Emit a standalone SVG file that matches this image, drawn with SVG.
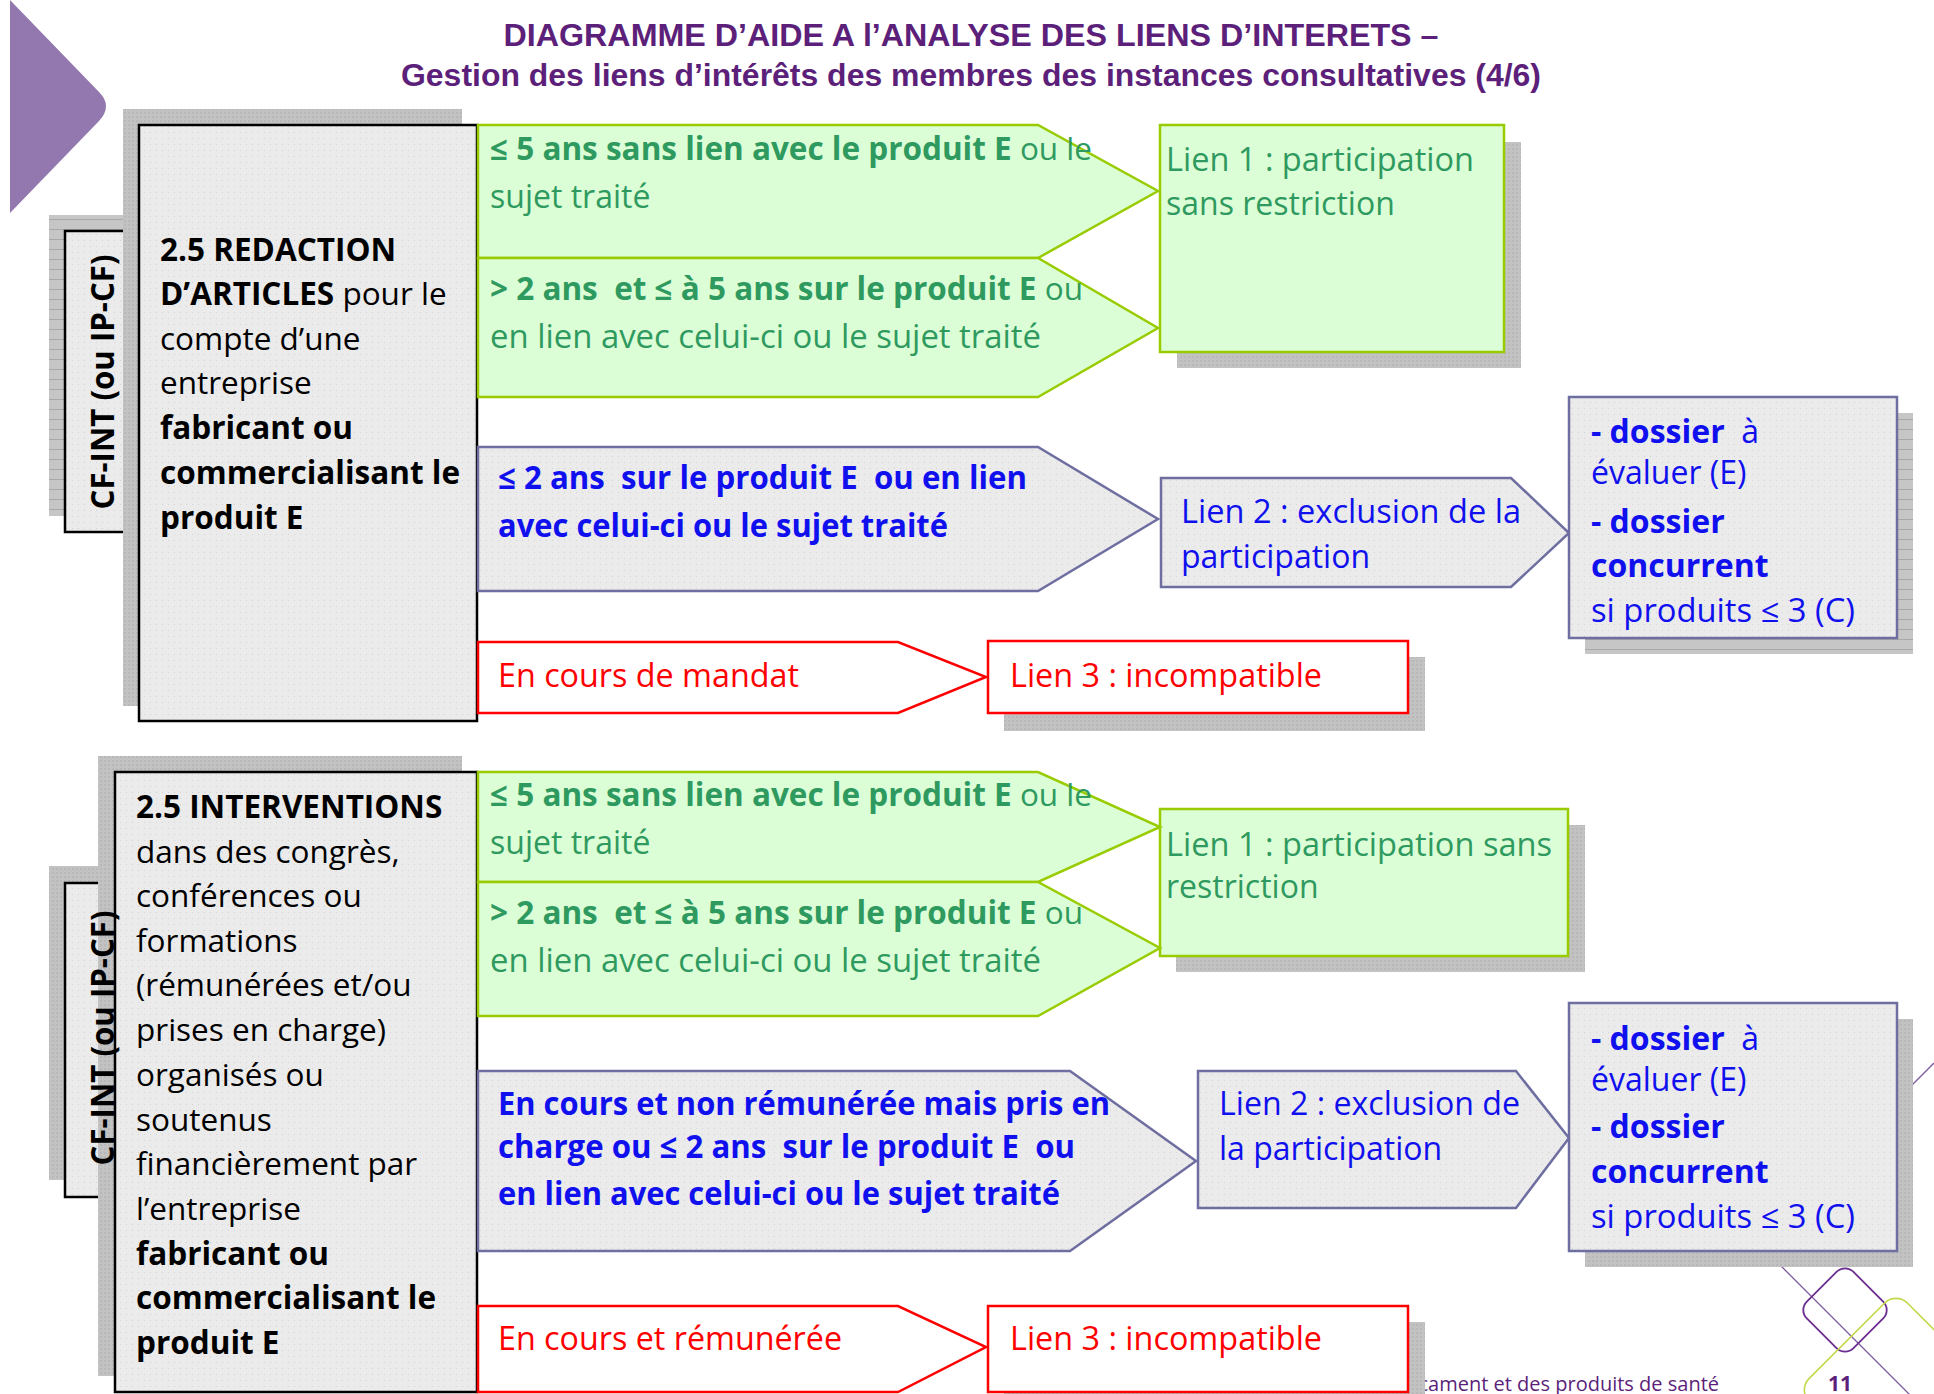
<svg xmlns="http://www.w3.org/2000/svg" width="1934" height="1394" viewBox="0 0 1934 1394">
<defs>
<pattern id="dots" width="6" height="6" patternUnits="userSpaceOnUse"><rect width="6" height="6" fill="#EBEBEB"/><rect width="1" height="1" fill="#D3D3D3"/></pattern>
<pattern id="stripes" width="10" height="10" patternUnits="userSpaceOnUse"><rect width="10" height="10" fill="#C6C6C6"/><rect y="9" width="10" height="1" fill="#A8A8A8"/></pattern>
<pattern id="grain" width="4" height="4" patternUnits="userSpaceOnUse"><rect width="4" height="4" fill="#C2C2C2"/><rect width="2" height="2" fill="#B8B8B8"/></pattern>
</defs>
<style>
.title{font-family:"Liberation Sans",Arial,sans-serif;font-weight:bold;font-size:31px;fill:#5C1F7A}
.t{font-family:"Open Sans","DejaVu Sans",sans-serif;font-size:32px}
.m{font-family:"Open Sans","DejaVu Sans",sans-serif;font-size:31.5px;fill:#000}
.b{font-weight:bold}
.green{fill:#2F9A5F}
.blue{fill:#1010EE}
.red{fill:#FF0000}
.lab{font-family:"Open Sans","DejaVu Sans",sans-serif;font-size:32px;font-weight:bold;fill:#000}
.shadow{fill:url(#grain)}
.shadowS{fill:url(#stripes)}
.box{fill:url(#dots);stroke:#000;stroke-width:2.5}
.gshape{fill:#DCFED6;stroke:#99CC00;stroke-width:2.5}
.bshape{fill:url(#dots);stroke:#6E6EA0;stroke-width:2.5}
.rshape{fill:#FFFFFF;stroke:#FF0000;stroke-width:2.5}
.foot{font-family:"Open Sans","DejaVu Sans",sans-serif;font-size:20px;fill:#5C1F7A}
</style>

<!-- decoration -->
<g id="decor">
<path d="M10,0 L99,92 Q113,106 99,121 L10,213 Z" fill="#9278AE"/>
<polyline points="1934,1063 1756,1241 1934,1419" fill="none" stroke="#7B5A9E" stroke-width="1.3"/>
<rect x="1812" y="1277" width="66" height="66" rx="12" fill="none" stroke="#6B2D8F" stroke-width="1.8" transform="rotate(45 1845 1310)"/>
<rect x="1826.5" y="1320.5" width="139" height="139" rx="16" fill="none" stroke="#C5D84A" stroke-width="1.6" transform="rotate(45 1896 1390)"/>
<text class="foot" x="1719" y="1391" text-anchor="end">Agence nationale de sécurité du médicament et des produits de santé</text>
<text class="foot b" x="1828" y="1391" style="font-size:21px">11</text>
</g>

<g id="title">
<text class="title" x="971" y="46" text-anchor="middle" textLength="935" lengthAdjust="spacingAndGlyphs">DIAGRAMME D’AIDE A l’ANALYSE DES LIENS D’INTERETS –</text>
<text class="title" x="971" y="86" text-anchor="middle" textLength="1140" lengthAdjust="spacingAndGlyphs">Gestion des liens d’intérêts des membres des instances consultatives (4/6)</text>
</g>

<!-- ============ SECTION 1 ============ -->
<g id="s1-label">
<rect x="49" y="215" width="90" height="301" class="shadowS"/>
<rect x="65" y="231" width="74" height="301" class="box"/>
<text class="lab" transform="translate(114,382) rotate(-90)" text-anchor="middle" textLength="255" lengthAdjust="spacingAndGlyphs">CF-INT (ou IP-CF)</text>
</g>

<g id="s1-main">
<rect x="123" y="109" width="339" height="597" class="shadow"/>
<rect x="139" y="125" width="338" height="596" class="box"/>
<text class="m b" x="160" y="261">2.5 REDACTION</text>
<text class="m" x="160" y="305"><tspan class="b">D’ARTICLES</tspan> pour le</text>
<text class="m" x="160" y="350">compte d’une</text>
<text class="m" x="160" y="394">entreprise</text>
<text class="m b" x="160" y="439">fabricant ou</text>
<text class="m b" x="160" y="484">commercialisant le</text>
<text class="m b" x="160" y="529">produit E</text>
</g>

<g id="s1-lien1">
<rect x="1177" y="142" width="344" height="226" class="shadow"/>
<rect x="1160" y="125" width="344" height="227" class="gshape"/>
<text class="t green" x="1166" y="171" textLength="308" lengthAdjust="spacingAndGlyphs">Lien 1 : participation</text>
<text class="t green" x="1166" y="215">sans restriction</text>
</g>

<g id="s1-green1">
<polygon points="478,125 1038,125 1158,191 1038,258 478,258" class="gshape"/>
<text class="t green" x="490" y="160" style="font-size:31.5px"><tspan class="b">≤ 5 ans sans lien avec le produit E</tspan> ou le</text>
<text class="t green" x="490" y="208">sujet traité</text>
</g>

<g id="s1-green2">
<polygon points="478,258 1038,258 1158,328 1038,397 478,397" class="gshape"/>
<text class="t green" x="490" y="300" style="font-size:31.5px"><tspan class="b">&gt; 2 ans &#160;et ≤ à 5 ans sur le produit E</tspan> ou</text>
<text class="t green" x="490" y="348" textLength="551" lengthAdjust="spacingAndGlyphs">en lien avec celui-ci ou le sujet traité</text>
</g>

<g id="s1-blue">
<polygon points="478,447 1038,447 1158,519 1038,591 478,591" class="bshape"/>
<text class="t blue b" x="498" y="489" textLength="529" lengthAdjust="spacingAndGlyphs">≤ 2 ans &#160;sur le produit E &#160;ou en lien</text>
<text class="t blue b" x="498" y="537" textLength="450" lengthAdjust="spacingAndGlyphs">avec celui-ci ou le sujet traité</text>
</g>

<g id="s1-lien2">
<polygon points="1161,478 1511,478 1569,533 1511,587 1161,587" class="bshape"/>
<text class="t blue" x="1181" y="523" textLength="340" lengthAdjust="spacingAndGlyphs">Lien 2 : exclusion de la</text>
<text class="t blue" x="1181" y="568">participation</text>
</g>

<g id="s1-dossier">
<rect x="1585" y="413" width="328" height="241" class="shadowS"/>
<rect x="1569" y="397" width="328" height="241" class="bshape"/>
<text class="t blue" x="1591" y="443"><tspan class="b">- dossier</tspan>&#160; à</text>
<text class="t blue" x="1591" y="484">évaluer (E)</text>
<text class="t blue b" x="1591" y="533">- dossier</text>
<text class="t blue b" x="1591" y="577">concurrent</text>
<text class="t blue" x="1591" y="622" textLength="264" lengthAdjust="spacingAndGlyphs">si produits ≤ 3 (C)</text>
</g>

<g id="s1-red">
<polygon points="478,642 898,642 986,677 898,713 478,713" class="rshape"/>
<text class="t red" x="498" y="687" textLength="301" lengthAdjust="spacingAndGlyphs">En cours de mandat</text>
</g>

<g id="s1-lien3">
<rect x="1004" y="657" width="421" height="74" class="shadow"/>
<rect x="988" y="641" width="420" height="72" class="rshape"/>
<text class="t red" x="1010" y="687" textLength="312" lengthAdjust="spacingAndGlyphs">Lien 3 : incompatible</text>
</g>

<!-- ============ SECTION 2 ============ -->
<g id="s2-label">
<rect x="49" y="866" width="66" height="314" class="shadow"/>
<rect x="65" y="883" width="50" height="314" class="box"/>
</g>

<g id="s2-main">
<rect x="98" y="756" width="364" height="620" class="shadow"/>
<rect x="115" y="772" width="362" height="620" class="box"/>
<text class="m b" x="136" y="818">2.5 INTERVENTIONS</text>
<text class="m" x="136" y="863">dans des congrès,</text>
<text class="m" x="136" y="907">conférences ou</text>
<text class="m" x="136" y="952">formations</text>
<text class="m" x="136" y="996">(rémunérées et/ou</text>
<text class="m" x="136" y="1041">prises en charge)</text>
<text class="m" x="136" y="1086">organisés ou</text>
<text class="m" x="136" y="1131">soutenus</text>
<text class="m" x="136" y="1175">financièrement par</text>
<text class="m" x="136" y="1220">l’entreprise</text>
<text class="m b" x="136" y="1265">fabricant ou</text>
<text class="m b" x="136" y="1309">commercialisant le</text>
<text class="m b" x="136" y="1354">produit E</text>
</g>
<g id="s2-label-text">
<text class="lab" transform="translate(114,1038) rotate(-90)" text-anchor="middle" textLength="255" lengthAdjust="spacingAndGlyphs">CF-INT (ou IP-CF)</text>
</g>

<g id="s2-lien1">
<rect x="1176" y="825" width="409" height="147" class="shadow"/>
<rect x="1160" y="809" width="408" height="147" class="gshape"/>
<text class="t green" x="1166" y="856" textLength="386" lengthAdjust="spacingAndGlyphs">Lien 1 : participation sans</text>
<text class="t green" x="1166" y="898">restriction</text>
</g>

<g id="s2-green1">
<polygon points="478,772 1038,772 1160,827 1038,882 478,882" class="gshape"/>
<text class="t green" x="490" y="806" style="font-size:31.5px"><tspan class="b">≤ 5 ans sans lien avec le produit E</tspan> ou le</text>
<text class="t green" x="490" y="854">sujet traité</text>
</g>

<g id="s2-green2">
<polygon points="478,882 1038,882 1160,948 1038,1016 478,1016" class="gshape"/>
<text class="t green" x="490" y="924" style="font-size:31.5px"><tspan class="b">&gt; 2 ans &#160;et ≤ à 5 ans sur le produit E</tspan> ou</text>
<text class="t green" x="490" y="972" textLength="551" lengthAdjust="spacingAndGlyphs">en lien avec celui-ci ou le sujet traité</text>
</g>

<g id="s2-blue">
<polygon points="478,1071 1070,1071 1196,1161 1070,1251 478,1251" class="bshape"/>
<text class="t blue b" x="498" y="1115" textLength="612" lengthAdjust="spacingAndGlyphs">En cours et non rémunérée mais pris en</text>
<text class="t blue b" x="498" y="1158" textLength="577" lengthAdjust="spacingAndGlyphs">charge ou ≤ 2 ans &#160;sur le produit E &#160;ou</text>
<text class="t blue b" x="498" y="1205" textLength="562" lengthAdjust="spacingAndGlyphs">en lien avec celui-ci ou le sujet traité</text>
</g>

<g id="s2-lien2">
<polygon points="1198,1071 1516,1071 1569,1138 1516,1208 1198,1208" class="bshape"/>
<text class="t blue" x="1219" y="1115" textLength="301" lengthAdjust="spacingAndGlyphs">Lien 2 : exclusion de</text>
<text class="t blue" x="1219" y="1160">la participation</text>
</g>

<g id="s2-dossier">
<rect x="1585" y="1019" width="328" height="248" class="shadow"/>
<rect x="1569" y="1003" width="328" height="248" class="bshape"/>
<text class="t blue" x="1591" y="1050"><tspan class="b">- dossier</tspan>&#160; à</text>
<text class="t blue" x="1591" y="1091">évaluer (E)</text>
<text class="t blue b" x="1591" y="1138">- dossier</text>
<text class="t blue b" x="1591" y="1183">concurrent</text>
<text class="t blue" x="1591" y="1228" textLength="264" lengthAdjust="spacingAndGlyphs">si produits ≤ 3 (C)</text>
</g>

<g id="s2-red">
<polygon points="478,1306 898,1306 986,1347 898,1392 478,1392" class="rshape"/>
<text class="t red" x="498" y="1350" textLength="344" lengthAdjust="spacingAndGlyphs">En cours et rémunérée</text>
</g>

<g id="s2-lien3">
<rect x="1004" y="1322" width="421" height="80" class="shadow"/>
<rect x="988" y="1306" width="420" height="86" class="rshape"/>
<text class="t red" x="1010" y="1350" textLength="312" lengthAdjust="spacingAndGlyphs">Lien 3 : incompatible</text>
</g>
</svg>
